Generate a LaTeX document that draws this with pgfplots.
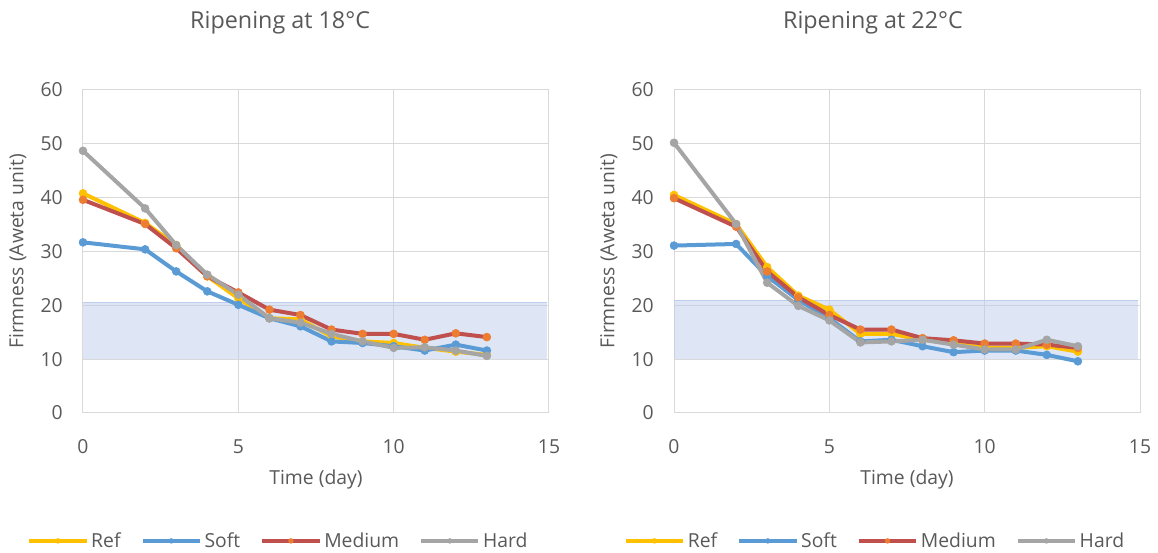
\documentclass[border=0pt]{standalone}
\usepackage{pgfplots}
\pgfplotsset{compat=1.18}
\usepackage{fontspec}
\setmainfont{Open Sans}

\definecolor{txt}{HTML}{595959}
\definecolor{gridc}{HTML}{D9D9D9}
\definecolor{cref}{HTML}{FFC000}
\definecolor{csoft}{HTML}{5B9BD5}
\definecolor{cmed}{HTML}{C0504D}
\definecolor{cmedmk}{HTML}{ED7D31}
\definecolor{chard}{HTML}{A5A5A5}
\definecolor{band}{HTML}{BDCDEB}

\pgfplotsset{
  firm/.style={
    scale only axis,
    width=349.5pt, height=242.25pt,
    xmin=0, xmax=15, ymin=0, ymax=60,
    xtick={0,5,10,15}, ytick={0,10,...,60},
    major tick length=0pt,
    grid=major,
    major grid style={draw=gridc, line width=0.75pt},
    axis line style={draw=gridc, line width=0.75pt},
    clip=false,
    /pgf/number format/assume math mode=true,
    tick label style={font=\fontsize{14.5}{17}\selectfont, text=txt},
    yticklabel style={anchor=east, inner sep=0pt, xshift=-15pt},
    xticklabel style={anchor=north, inner sep=0pt, yshift=-20pt},
    label style={font=\fontsize{14.5}{17}\selectfont, text=txt},
    xlabel={Time (day)},
    ylabel={Firmness (Aweta unit)},
    xlabel style={at={(axis description cs:0.5,-0.207)}, anchor=center, inner sep=0pt},
    ylabel style={at={(axis description cs:-0.140,0.5)}, anchor=center, rotate=0, inner sep=0pt},
    title style={font=\fontsize{17.5}{20}\selectfont, text=txt, anchor=center, inner sep=0pt},
    legend columns=4,
    legend style={draw=none, fill=none, font=\fontsize{14.5}{17}\selectfont, text=txt,
      anchor=center, inner sep=0pt,
      /tikz/every even column/.append style={column sep=13pt}},
    legend cell align=left,
    legend image code/.code={%
      \draw[mark repeat=2, mark phase=2, #1, mark size=1.8pt] plot coordinates {(0pt,0pt) (21.5pt,0pt) (43pt,0pt)};},
  },
  ser/.style={line width=3pt, mark=*, mark size=3pt, line join=round,
    mark options={line width=0.4pt}},
  medmk/.style={mark options={draw=cmedmk, fill=cmedmk, line width=0.4pt}},
}

\begin{document}
\begin{tikzpicture}
\useasboundingbox (0,0) rectangle (868.5pt,414.75pt);

% ---------- 18 degrees ----------
\begin{axis}[firm, at={(62.25pt,105pt)}, anchor=south west,
  title={Ripening at 18°C}, title style={at={(axis description cs:0.423,1.182)}},
  legend style={at={(axis description cs:0.420,-0.396)}}]
\addplot[forget plot, fill=band, fill opacity=0.5, draw=none]
  coordinates {(0,10) (14.93,10) (14.93,20.6) (0,20.6)} -- cycle;
\addplot[forget plot, draw=band, line width=0.75pt]
  coordinates {(0,20.6) (14.93,20.6)};
\addplot[ser, color=cref] coordinates {
  (0,40.8) (2,35.3) (3,31.2) (4,25.4) (5,21.3) (6,17.6) (7,17.4)
  (8,14.2) (9,13.3) (10,13.0) (11,12.1) (12,11.4) (13,10.8)};
\addlegendentry{Ref}
\addplot[ser, color=csoft] coordinates {
  (0,31.7) (2,30.4) (3,26.3) (4,22.6) (5,20.1) (6,17.6) (7,16.1)
  (8,13.3) (9,13.0) (10,12.4) (11,11.6) (12,12.7) (13,11.6)};
\addlegendentry{Soft}
\addplot[ser, color=cmed, medmk] coordinates {
  (0,39.6) (2,35.1) (3,30.6) (4,25.4) (5,22.4) (6,19.2) (7,18.2)
  (8,15.5) (9,14.7) (10,14.7) (11,13.6) (12,14.8) (13,14.1)};
\addlegendentry{Medium}
\addplot[ser, color=chard] coordinates {
  (0,48.7) (2,38.0) (3,31.2) (4,25.7) (5,22.0) (6,17.6) (7,16.8)
  (8,14.7) (9,13.3) (10,12.1) (11,12.2) (12,11.6) (13,10.6)};
\addlegendentry{Hard}
\end{axis}

% ---------- 22 degrees ----------
\begin{axis}[firm, at={(505.5pt,105pt)}, anchor=south west,
  title={Ripening at 22°C}, title style={at={(axis description cs:0.427,1.182)}},
  legend style={at={(axis description cs:0.432,-0.396)}}]
\addplot[forget plot, fill=band, fill opacity=0.5, draw=none]
  coordinates {(0,10) (14.93,10) (14.93,20.9) (0,20.9)} -- cycle;
\addplot[forget plot, draw=band, line width=0.75pt]
  coordinates {(0,20.9) (14.93,20.9)};
\addplot[ser, color=cref] coordinates {
  (0,40.5) (2,35.1) (3,27.1) (4,21.8) (5,19.2) (6,14.7) (7,14.7)
  (8,13.6) (9,13.0) (10,12.1) (11,12.1) (12,12.4) (13,11.4)};
\addlegendentry{Ref}
\addplot[ser, color=csoft] coordinates {
  (0,31.1) (2,31.4) (3,25.4) (4,21.0) (5,17.6) (6,13.3) (7,13.6)
  (8,12.4) (9,11.3) (10,11.6) (11,11.6) (12,10.8) (13,9.6)};
\addlegendentry{Soft}
\addplot[ser, color=cmed, medmk] coordinates {
  (0,39.9) (2,34.6) (3,26.3) (4,21.5) (5,18.2) (6,15.5) (7,15.5)
  (8,13.9) (9,13.5) (10,12.9) (11,12.9) (12,12.7) (13,12.1)};
\addlegendentry{Medium}
\addplot[ser, color=chard] coordinates {
  (0,50.2) (2,35.1) (3,24.2) (4,19.9) (5,17.2) (6,13.1) (7,13.3)
  (8,13.6) (9,12.7) (10,11.8) (11,11.8) (12,13.6) (13,12.4)};
\addlegendentry{Hard}
\end{axis}
\end{tikzpicture}
\end{document}
